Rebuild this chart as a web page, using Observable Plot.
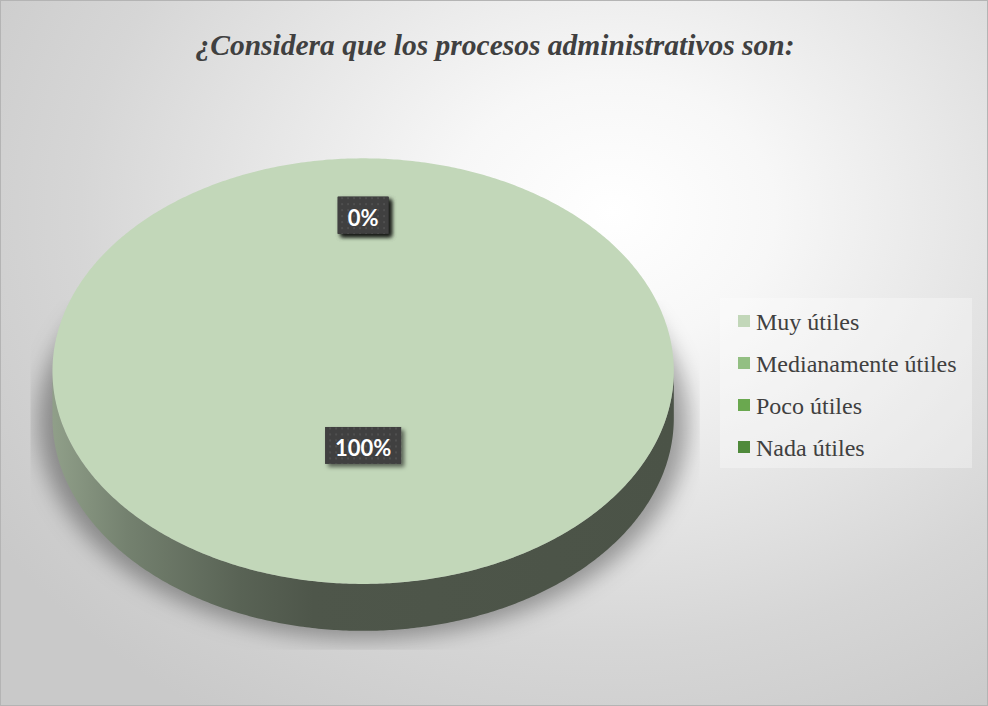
<!DOCTYPE html>
<html>
<head>
<meta charset="utf-8">
<script src="https://cdn.jsdelivr.net/npm/d3@7"></script>
<script src="https://cdn.jsdelivr.net/npm/@observablehq/plot@0.6"></script>
<style>
  html, body { margin: 0; padding: 0; background: #fff; }
  #chart {
    position: relative; width: 986px; height: 704px; overflow: hidden;
    border: 1px solid #b4b4b4;
    background: radial-gradient(ellipse 75% 85% at 62% 30%, #ffffff 0%, #f7f7f7 22%, #e6e6e6 48%, #d6d6d6 72%, #c9c9c9 100%);
  }
  #title {
    position: absolute; left: 0; top: 28px; width: 988px; text-align: center; line-height: 1;
    font: italic bold 29.5px "Liberation Serif", "Times New Roman", Times, serif; color: #404040;
  }
  #plot { position: absolute; left: -1px; top: -1px; }
  #legend {
    position: absolute; left: 719px; top: 297px; width: 252px; height: 170px;
    background: rgba(255,255,255,0.32); box-sizing: border-box; padding: 3px 0 0 18px;
    font: 24px "Liberation Serif", "Times New Roman", Times, serif; color: #404040;
  }
  #legend .row { height: 42px; line-height: 42px; white-space: nowrap; }
  #legend .sw { display: inline-block; width: 12px; height: 12px; margin-right: 6px; vertical-align: 3px; }
</style>
</head>
<body>
<div id="chart">
  <div id="plot"></div>
  <div id="title"></div>
  <div id="legend"></div>
</div>
<script>
// ---- data ----
const titleText = "¿Considera que los procesos administrativos son:";
const categories = ["Muy útiles", "Medianamente útiles", "Poco útiles", "Nada útiles"];
const values = [100, 0, 0, 0];
const colors = ["#c2d7b9", "#93bf83", "#6aa84f", "#4f8a3b"];

// ---- layout ----
const W = 988, H = 706;
const cx = 363, cy = 371, rx = 311, ry = 213, depth = 47;
const total = d3.sum(values);
const arcs = d3.pie().sort(null).startAngle(0).endAngle(2 * Math.PI)(values);
const pt = (a, dy = 0) => ({x: cx + rx * Math.sin(a), y: cy - ry * Math.cos(a) + dy});
function arcPoints(a0, a1, dy = 0) {
  const n = Math.max(2, Math.ceil((a1 - a0) / 0.01));
  return d3.range(n + 1).map(i => pt(a0 + (a1 - a0) * i / n, dy));
}

// top face slices
const topRows = [];
arcs.forEach((a, i) => {
  topRows.push({cat: categories[i], x: cx, y: cy});
  arcPoints(a.startAngle, a.endAngle).forEach(p => topRows.push({cat: categories[i], ...p}));
});

// side faces (visible front half)
const sideMarks = [];
arcs.forEach((a, i) => {
  const s = Math.max(a.startAngle, Math.PI / 2), e = Math.min(a.endAngle, 3 * Math.PI / 2);
  if (e > s) {
    const pts = arcPoints(s, e).concat(arcPoints(s, e, depth).reverse());
    sideMarks.push(Plot.line(pts, {x: "x", y: "y", fill: `url(#side${i})`, stroke: "none", curve: "linear"}));
  }
});

// shadow
const shadowPts = d3.range(361).map(d => {
  const a = d * Math.PI / 180;
  return {x: cx + (rx + 14) * Math.sin(a), y: cy + depth + 4 - (ry + 4) * Math.cos(a)};
});

// labels
const labelRows = arcs.map((a, i) => {
  const m = (a.startAngle + a.endAngle) / 2;
  const share = values[i] / total;
  const r = share >= 0.5 ? 0.368 : 0.714;
  return {x: cx + rx * r * Math.sin(m), y: cy - ry * r * Math.cos(m), text: d3.format(".0%")(share)};
});

const defs = () => {
  const g = d3.create("svg:defs");
  arcs.forEach((a, i) => {
    const c = d3.rgb(colors[i]);
    const sc = k => d3.rgb(c.r * k, c.g * k, c.b * k).formatHex();
    const lg = g.append("linearGradient").attr("id", `side${i}`)
      .attr("gradientUnits", "userSpaceOnUse")
      .attr("x1", cx - rx).attr("x2", cx + rx).attr("y1", 0).attr("y2", 0);
    [[0, 0.74], [0.12, 0.6], [0.3, 0.46], [0.42, 0.4], [1, 0.385]].forEach(([o, k]) =>
      lg.append("stop").attr("offset", o).attr("stop-color", sc(k)));
  });
  const f = g.append("filter").attr("id", "blur").attr("x", "-20%").attr("y", "-20%").attr("width", "140%").attr("height", "140%");
  f.append("feGaussianBlur").attr("stdDeviation", 11);
  g.append("clipPath").attr("id", "shclip").append("rect")
    .attr("x", 30).attr("y", 300).attr("width", 670).attr("height", 350);
  const ds = g.append("filter").attr("id", "lshadow").attr("x", "-30%").attr("y", "-30%").attr("width", "160%").attr("height", "170%");
  ds.append("feDropShadow").attr("dx", 3).attr("dy", 3).attr("stdDeviation", 2)
    .attr("flood-color", "#000").attr("flood-opacity", 0.55);
  const pat = g.append("pattern").attr("id", "dots").attr("patternUnits", "userSpaceOnUse")
    .attr("width", 6).attr("height", 6);
  pat.append("rect").attr("width", 6).attr("height", 6).attr("fill", "#3f3f3f");
  pat.append("circle").attr("cx", 3).attr("cy", 3).attr("r", 0.9).attr("fill", "#585858");
  return g.node();
};

const svg = Plot.plot({
  width: W, height: H, margin: 0,
  x: {domain: [0, W], range: [0, W], axis: null},
  y: {domain: [0, H], range: [0, H], axis: null},
  color: {domain: categories, range: colors},
  style: {background: "transparent", overflow: "visible"},
  marks: [
    defs,
    Plot.line(shadowPts, {x: "x", y: "y", fill: "#000", fillOpacity: 0.34, stroke: "none", ariaDescription: "shadow"}),
    ...sideMarks,
    Plot.line(topRows, {x: "x", y: "y", z: "cat", fill: "cat", stroke: "none", curve: "linear"}),
    Plot.text(labelRows, {x: "x", y: "y", text: "text", fill: "white", fontSize: 22, fontWeight: "bold",
      fontFamily: "Lato, 'Open Sans', sans-serif", textAnchor: "middle", lineAnchor: "middle", ariaDescription: "labels"})
  ]
});
document.getElementById("plot").appendChild(svg);

const sh = d3.select(svg).select('[aria-description="shadow"]');
sh.attr("clip-path", "url(#shclip)");
sh.selectAll("path").attr("filter", "url(#blur)");

d3.select(svg).select('[aria-description="labels"]').selectAll("text").each(function () {
  const b = this.getBBox();
  const padX = 10, hgt = 37;
  const r = document.createElementNS("http://www.w3.org/2000/svg", "rect");
  const tr = this.getAttribute("transform");
  if (tr) r.setAttribute("transform", tr);
  r.setAttribute("x", b.x - padX);
  r.setAttribute("y", b.y + b.height * 0.5 - 21);
  r.setAttribute("width", b.width + 2 * padX);
  r.setAttribute("height", hgt);
  r.setAttribute("fill", "url(#dots)");
  r.setAttribute("filter", "url(#lshadow)");
  this.parentNode.insertBefore(r, this);
});

document.getElementById("title").textContent = titleText;
const lg = d3.select("#legend");
categories.forEach((c, i) => {
  const row = lg.append("div").attr("class", "row");
  row.append("span").attr("class", "sw").style("background", colors[i]);
  row.append("span").text(c);
});
</script>
</body>
</html>
